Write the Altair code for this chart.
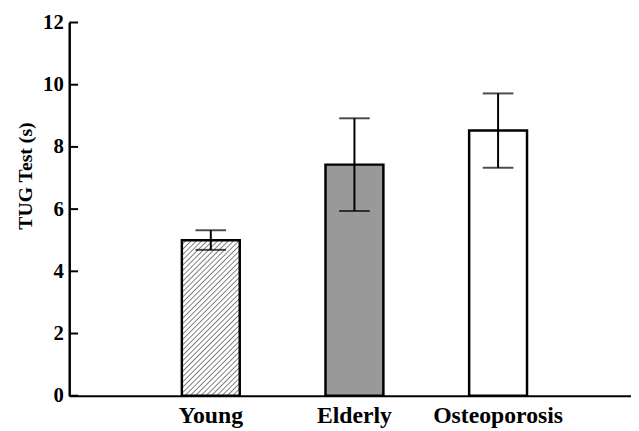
import altair as alt
import pandas as pd

groups = ["Young", "Elderly", "Osteoporosis"]
means = [5.0, 7.43, 8.53]
err_low = [4.69, 5.94, 7.33]
err_high = [5.32, 8.92, 9.72]
fills = ["url(#hatch)", "#999999", "#ffffff"]
yticks = [0, 2, 4, 6, 8, 10, 12]

df = pd.DataFrame({"group": groups, "mean": means, "lo": err_low, "hi": err_high, "fill": fills})
tdf = pd.DataFrame({"t": yticks})

FONT = "Liberation Serif"

xscale = alt.Scale(paddingInner=0.597, paddingOuter=0.754, align=0.52)
yscale = alt.Scale(domain=[0, 12], nice=False, zero=True)

bars = alt.Chart(df).mark_bar(stroke="black", strokeWidth=2.5).encode(
    x=alt.X("group:N", sort=groups, scale=xscale,
            axis=alt.Axis(title=None, labelAngle=0, ticks=False, domainWidth=2, labelPadding=8,
                          labelFontSize=24)),
    y=alt.Y("mean:Q", scale=yscale,
            axis=alt.Axis(values=yticks, ticks=False, grid=False, domainWidth=2.5,
                          labelPadding=6, labelFontSize=21,
                          title="TUG Test (s)", titlePadding=7, titleY=155, titleFontSize=20)),
    fill=alt.Fill("fill:N", scale=None),
)

errs = alt.Chart(df).mark_errorbar(
    color="black", thickness=2, ticks={"size": 31, "thickness": 2, "color": "black"}
).encode(
    x=alt.X("group:N", sort=groups),
    y=alt.Y("lo:Q", scale=yscale, title="TUG Test (s)"),
    y2="hi:Q",
)

ticks = alt.Chart(tdf).mark_rule(color="black", strokeWidth=2).encode(
    y=alt.Y("t:Q", scale=yscale),
    x=alt.value(0),
    x2=alt.value(9),
)

chart = alt.layer(bars, errs, ticks).properties(
    width=569, height=378,
    background="white",
    autosize=alt.AutoSizeParams(type="none"),
    padding={"left": 62, "top": 12, "right": 0, "bottom": 30},
).configure_view(stroke=None).configure_axis(
    labelFont=FONT, labelFontWeight="bold", labelColor="black",
    titleFont=FONT, titleFontWeight="bold", titleColor="black",
    domainColor="black", grid=False,
)

chart.save("out.html", embed_options={"renderer": "svg", "actions": False})

defs = ('<svg width="0" height="0" style="position:absolute"><defs>'
        '<pattern id="hatch" patternUnits="userSpaceOnUse" width="3.8" height="3.8" '
        'patternTransform="rotate(45)"><rect width="3.8" height="3.8" fill="white"/>'
        '<line x1="0" y1="0" x2="0" y2="3.8" stroke="black" stroke-width="1"/></pattern>'
        '</defs></svg>')
with open("out.html") as f:
    html = f.read()
html = html.replace("<body>", "<body>" + defs, 1)
with open("out.html", "w") as f:
    f.write(html)
